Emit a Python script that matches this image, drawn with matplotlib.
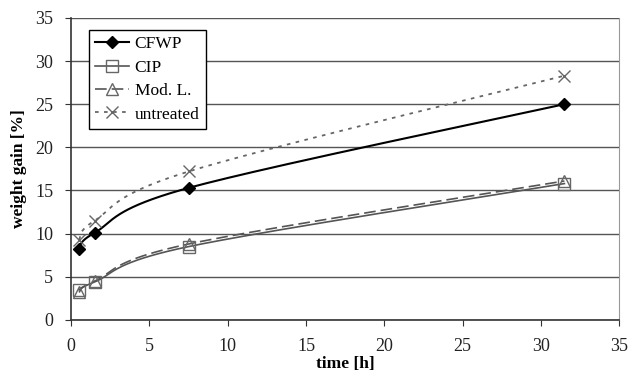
import numpy as np
import matplotlib
matplotlib.use("Agg")
import matplotlib.pyplot as plt

time_h = [0.5, 1.5, 7.5, 31.5]
cfwp = [8.2, 10.1, 15.3, 25.0]
cip = [3.5, 4.4, 8.5, 15.8]
modl = [3.2, 4.5, 8.8, 16.1]
untreated = [9.3, 11.5, 17.2, 28.3]

x_ticks = [0, 5, 10, 15, 20, 25, 30, 35]
y_ticks = [0, 5, 10, 15, 20, 25, 30, 35]


def smooth(xs, ys, n=60):
    """Catmull-Rom style Bezier smoothing (like spreadsheet smoothed lines)."""
    P = np.column_stack([xs, ys]).astype(float)
    out = []
    for i in range(len(P) - 1):
        p0 = P[i - 1] if i > 0 else P[i]
        p1 = P[i]
        p2 = P[i + 1]
        p3 = P[i + 2] if i + 2 < len(P) else P[i + 1]
        c1 = p1 + (p2 - p0) / 6.0
        c2 = p2 - (p3 - p1) / 6.0
        t = np.linspace(0, 1, n)[:, None]
        seg = ((1 - t) ** 3) * p1 + 3 * ((1 - t) ** 2) * t * c1 + 3 * (1 - t) * t ** 2 * c2 + t ** 3 * p2
        out.append(seg if i == 0 else seg[1:])
    s = np.vstack(out)
    return s[:, 0], s[:, 1]


plt.rcParams['font.family'] = ['Liberation Serif', 'DejaVu Serif']

fig = plt.figure(figsize=(6.41, 3.80), dpi=100)
ax = fig.add_axes([0.111, 0.158, 0.855, 0.795])

series = [
    ("CFWP", cfwp, dict(color="black", lw=1.5, ls="-"), dict(marker="D", ms=6, mfc="black", mec="black")),
    ("CIP", cip, dict(color="#555555", lw=1.2, ls="-"), dict(marker="s", ms=8, mfc="none", mec="#666666", mew=1.0)),
    ("Mod. L.", modl, dict(color="#555555", lw=1.2, ls=(0, (7, 3))), dict(marker="^", ms=8, mfc="none", mec="#666666", mew=1.0)),
    ("untreated", untreated, dict(color="#666666", lw=1.3, ls=(0, (2, 3))), dict(marker="x", ms=8, mfc="none", mec="#666666", mew=1.0)),
]

handles = []
for name, ys, lstyle, mstyle in series:
    sx, sy = smooth(time_h, ys)
    ax.plot(sx, sy, zorder=3, **lstyle)
    ax.plot(time_h, ys, ls="none", zorder=4, **mstyle)
    h, = ax.plot([], [], label=name, **lstyle, **mstyle)
    handles.append(h)

ax.set_xlim(0, 35)
ax.set_ylim(0, 35)
ax.set_xticks(x_ticks)
ax.set_yticks(y_ticks)
ax.yaxis.grid(True, color="#555555", lw=1.0)
ax.set_axisbelow(True)
ax.spines["right"].set_color("#999999")
ax.spines["top"].set_visible(False)
ax.spines["left"].set_color("#333333")
ax.spines["bottom"].set_color("#333333")
ax.spines["left"].set_linewidth(1.2)
ax.spines["bottom"].set_linewidth(1.2)
ax.tick_params(axis="both", direction="out", length=4, labelsize=13, colors="#333333", labelcolor="#222222")
ax.tick_params(axis="x", pad=9)
ax.tick_params(axis="y", pad=9)

ax.set_xlabel("time [h]", fontsize=12.5, fontweight="bold", labelpad=1)
ax.set_ylabel("weight gain [%]", fontsize=12.5, fontweight="bold", labelpad=6)

leg = ax.legend(handles=handles, loc="upper left", bbox_to_anchor=(0.032, 0.96), fontsize=12.5,
                frameon=True, fancybox=False, edgecolor="black", framealpha=1,
                handlelength=2.0, handletextpad=0.3, borderpad=0.35, labelspacing=0.42,
                borderaxespad=0)
leg.get_frame().set_linewidth(1.0)

fig.savefig("out.png", dpi=100)
